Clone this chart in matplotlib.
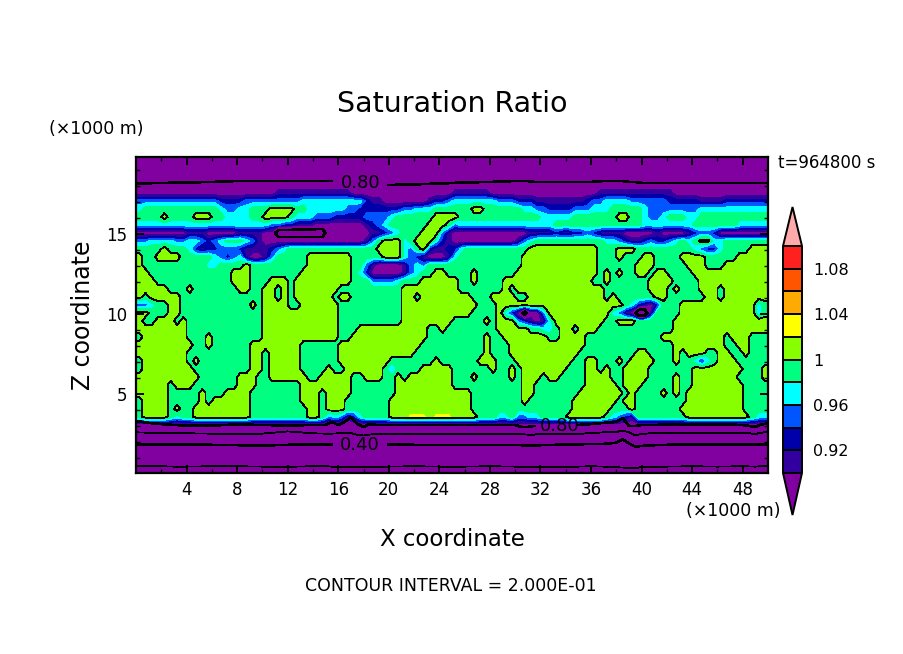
import numpy as np
import matplotlib
matplotlib.use("Agg")
import matplotlib.pyplot as plt
from matplotlib.colors import ListedColormap, BoundaryNorm

W, H = 904, 654

# Saturation-ratio classes: one character per 0.5 km x 0.5 km cell
class_values = {"a": 0.72, "b": 0.76, "0": 0.885, "1": 0.91, "2": 0.93, "3": 0.95,
                "4": 0.97, "5": 0.99, "6": 1.01, "y": 1.024}

field_rows = [
 "0000000000 0000000000 0000000000 0000000000 0000000000 0000000000 0000000000 0000000000 0000000000 0000000000",
 "0000000000 0000000000 0000000000 0000000000 0000000000 0000000000 0000000000 0000000000 0000000000 0000000000",
 "0000000000 0000000000 0000000000 0000000000 0000000000 0000000000 0000000000 0000000000 0000000000 0000000000",
 "0000000000 0000000000 0000000000 0000000000 0000000000 0000000000 0000000000 0000000000 0000000000 0000000000",
 "0000000000 0000000000 0011111111 1111000000 0000000000 1111110000 0000000000 0001111111 1111100000 0000000000",
 "3333333333 3332222333 3333334444 4444442110 0000001223 4444444333 2221111111 1233444433 3333222221 1112222222",
 "4555555555 5554334455 5666655444 4443322222 2233444555 5556655555 5443322223 3344455555 4333333334 4444444444",
 "5555655556 6655444455 6666544433 3222223333 4555555666 6555555555 5555444445 5555556655 4334555445 5555555555",
 "4444444444 4444444444 4332211100 0000001234 5555556665 3444444444 4444445555 5555555555 4444444455 5555544444",
 "0000000011 1000001111 00aaaaaaaa 0000000112 3455566631 0000000000 0011112112 2321111000 0010000123 3200000000",
 "3344443344 3234555431 0000000000 0000001356 6645666421 0000000000 1345555555 5555443211 2322345456 6445555555",
 "5555655542 1223332111 1234555555 5555555566 6643562112 2455555555 5566666666 6665556665 5555555543 2245555666",
 "6556666555 5543234100 1355555666 6666555556 6643210001 4555555555 5666666666 6665556555 6655556666 5555566666",
 "6555555555 5445555655 5555555666 6666553100 0013435555 5555555555 5666666666 6665555556 6655555666 5556666666",
 "6655555555 5555566655 5555556666 6666542000 0013455665 5556555555 6666666666 6665656556 6566555566 6666666666",
 "6665555555 5555566655 5666566666 6666555333 3455566666 6556555566 6666666666 6655655555 5666655556 6666666666",
 "6666655565 5555556655 6656566666 6655555555 5566666666 6555555565 6666666666 6666555555 5666565556 6656666666",
 "6566666555 5555555555 6656566666 6566555555 5566566666 6665556666 5566666666 6666565555 5566555555 6656666666",
 "3345566555 5555555565 6666556666 6655555555 5566666666 6666555666 6666666666 6666666542 1025556666 6666666645",
 "6655566555 5555555555 6666666666 6655555555 5566666666 6665555642 0b00366666 666664310a a155556666 6666666645",
 "6556665655 5555555555 6666666666 6655555555 5566666666 5555565666 3210146666 6666556665 5555566666 6666666666",
 "6666666655 5555555555 6666666666 6655566666 6666665565 5555555666 6655445665 6665555555 5555566666 6666666666",
 "5666666655 5655555555 6666666666 6655666666 6666665555 5555565566 6666655666 6555555555 5556666666 6665666555",
 "6666666665 5655555566 6666665555 5566666666 6666655555 5555565556 6666666666 6555555555 5555566666 6665566555",
 "6666666655 5555555566 5666665555 5566666666 6666555555 5555565556 6666666666 5555555556 6555565666 5566556555",
 "5666666656 5555555566 5666665555 5566666666 5555555655 5555666555 6666666665 5665556566 6655565542 4566655555",
 "5666666665 5555555566 5666665555 6556666665 3555566666 5555556556 5666666655 5665655666 6555555566 6666665556",
 "6666666666 5555556665 5666666556 6666556665 5656666666 5556555556 5666566555 5666655666 6555565566 6666655556",
 "6666656665 5555556665 5555556666 6666555555 5666666666 5555555555 5665555555 5666665666 5555565566 6666665555",
 "6666655555 6555666655 5555556665 6666555555 5666666666 6665555555 5665555555 6666666565 5556565666 6666665555",
 "5666655555 6566666655 5555556665 6665555555 6666666666 6665555555 5655555556 6666665665 5555555666 6666665555",
 "5666656556 6666666655 5555555665 6665555555 6666666666 6665555555 5555555556 6666655565 5555556666 6666665555",
 "5666654556 6666666655 5555555665 3431245555 666yyy6yyy 6666555445 3344555566 6666543215 5555555666 6666666544",
 "0000000000 0000000000 0000000000 0000000000 0000000000 0000000000 0000000000 0000000000 0000000000 0000000000",
]

# Contour lines of the dry layers (km)
line_x = [0, 1, 2, 3, 4, 6, 8, 10, 12, 14, 15, 15.5, 16, 16.5, 17, 17.5, 18, 18.5, 19, 20, 22, 24, 26,
          28, 30, 30.5, 31, 31.5, 32, 35, 36, 37, 38, 38.5, 39, 39.5, 40, 41, 42, 44, 46, 48, 49, 49.5, 50]
n = np.nan
line_080_low = [3.31, 3.19, 3.12, 3.06, 3.03, 3.03, 3.09, 3.06, 3.03, 3.06, 3.06, 3.25, 3.06, 3.25, 3.55, 3.12,
                2.94, 3.12, 3.06, 3.06, 3.06, 3.06, 3.06, 3.06, 3.06, 2.94, 2.94, 3.0, n, 3.06, 3.12, 3.19,
                3.25, 3.5, 3.0, 3.0, 3.06, 3.06, 3.09, 3.1, 3.1, 3.06, 2.94, 3.1, 3.15]
line_060 = [2.6, 2.58, 2.56, 2.55, 2.54, 2.52, 2.5, 2.52, 2.66, 2.54, 2.52, 2.52, 2.54, 2.56, 2.56, 2.44,
            2.4, 2.46, 2.5, 2.5, 2.5, 2.5, 2.5, 2.5, 2.48, 2.48, 2.46, 2.46, 2.5, 2.5, 2.56, 2.6,
            2.62, 2.72, 2.6, 2.42, 2.5, 2.56, 2.58, 2.58, 2.56, 2.58, 2.5, 2.58, 2.65]
line_040 = [1.85, 1.85, 1.85, 1.85, 1.85, 1.82, 1.8, 1.78, 1.82, 1.85, 1.85, 1.85, n, n, n, n,
            n, n, n, 1.85, 1.82, 1.8, 1.8, 1.82, 1.8, 1.8, 1.78, 1.78, 1.8, 1.85, 1.88, 1.88,
            1.95, 2.17, 1.9, 1.71, 1.75, 1.8, 1.82, 1.85, 1.85, 1.85, 1.85, 1.85, 1.85]
line_020 = [0.52, 0.5, 0.48, 0.46, 0.46, 0.48, 0.48, 0.46, 0.45, 0.48, 0.48, 0.46, 0.46, 0.44, 0.46, 0.44,
            0.42, 0.44, 0.46, 0.46, 0.48, 0.46, 0.46, 0.48, 0.46, 0.46, 0.44, 0.44, 0.46, 0.46, 0.48, 0.46,
            0.42, 0.4, 0.38, 0.38, 0.42, 0.46, 0.46, 0.48, 0.46, 0.48, 0.46, 0.48, 0.5]
line_080_top = [18.17, 18.17, 18.19, 18.2, 18.22, 18.25, 18.31, 18.31, 18.31, 18.31, 18.31, 18.31, n, n, n, n,
                n, n, n, 18.06, 18.1, 18.15, 18.22, 18.25, 18.31, 18.31, 18.31, 18.25, 18.25, 18.25, 18.25, 18.31,
                18.31, 18.31, 18.25, 18.25, 18.19, 18.19, 18.19, 18.19, 18.19, 18.19, 18.19, 18.19, 18.19]

levels = [0.90, 0.92, 0.94, 0.96, 0.98, 1.00, 1.02, 1.04, 1.06, 1.08, 1.10]
band_colors = ["#3300A0", "#0000AA", "#0055FF", "#00FFFF", "#00FF80",
               "#88FF00", "#FFFF00", "#FFAA00", "#FF5500", "#FF2020"]
under_color, over_color = "#8000A0", "#FFAAAA"
cbar_ticks = [0.92, 0.96, 1.00, 1.04, 1.08]
cbar_labels = ["0.92", "0.96", "1", "1.04", "1.08"]
xticks = [4, 8, 12, 16, 20, 24, 28, 32, 36, 40, 44, 48]
yticks = [5, 10, 15]


def px_axes(fig, left, top, right, bottom):
    return fig.add_axes([left / W, 1 - bottom / H, (right - left) / W, (bottom - top) / H])


rows = [r.replace(" ", "") for r in field_rows]
grid = np.array([[class_values[c] for c in r] for r in rows])
ncol = grid.shape[1]
x_cells = (np.arange(ncol) + 0.5) * 50.0 / ncol
z_cells = 19.5625 - 0.5 * np.arange(len(rows))

# Extend the table to the domain edges, and to the ground with the driest class
x_full = np.concatenate([[0.0], x_cells, [50.0]])
z_full = np.concatenate([[20.0], z_cells, [0.0]])
grid_full = np.pad(grid, 1, mode="edge")

fig = plt.figure(figsize=(W / 100, H / 100), dpi=100, facecolor="white")
ax = px_axes(fig, 136, 157, 768, 473)

cmap = ListedColormap(band_colors)
cmap.set_under(under_color)
cmap.set_over(over_color)
norm = BoundaryNorm(levels, cmap.N)
cf = ax.contourf(x_full, z_full, grid_full, levels=levels, cmap=cmap, norm=norm, extend="both")
ax.contour(x_full, z_full, grid_full, levels=[1.0], colors="k", linewidths=0.6, antialiased=False)
ax.contour(x_full, z_full, grid_full, levels=[0.8], colors="k", linewidths=1.2, antialiased=False)

ax.plot(line_x, line_080_low, color="k", lw=1.2, aa=False)
ax.plot(line_x, line_060, color="k", lw=0.6, aa=False)
ax.plot(line_x, line_040, color="k", lw=1.2, aa=False)
ax.plot(line_x, line_020, color="k", lw=0.6, aa=False)
ax.plot(line_x, line_080_top, color="k", lw=1.2, aa=False)
ax.text(17.75, 18.2, "0.80", ha="center", va="center", fontsize=13)
ax.text(17.7, 1.8, "0.40", ha="center", va="center", fontsize=13)
ax.text(33.5, 3.0, "0.80", ha="center", va="center", fontsize=13)

ax.set_xlim(0, 50)
ax.set_ylim(0.06, 19.81)
ax.set_xticks(xticks)
ax.set_xticks(np.arange(2, 50, 4), minor=True)
ax.set_yticks(yticks)
ax.set_yticks([z for z in range(1, 20) if z % 5], minor=True)
ax.tick_params(which="major", direction="in", length=6, width=1.4, top=True, right=True,
               labelsize=12, pad=6)
ax.tick_params(which="minor", direction="in", length=3, width=1.0, top=True, right=True)
for s in ax.spines.values():
    s.set_linewidth(1.6)

cax = px_axes(fig, 783, 207, 802, 515)
cb = fig.colorbar(cf, cax=cax, extendfrac=[0.185, 0.172], drawedges=True, spacing="uniform")
cb.set_ticks(cbar_ticks, labels=cbar_labels)
cb.ax.minorticks_off()
cb.ax.tick_params(length=0, labelsize=11.5, pad=8)
cb.outline.set_linewidth(1.4)
cb.dividers.set_linewidth(1.4)
cb.dividers.set_color("k")


def tx(px, py, s, **kw):
    fig.text(px / W, 1 - py / H, s, **kw)


tx(452, 104, "Saturation Ratio", ha="center", va="center", fontsize=20.5)
tx(96, 129, "(\u00d71000 m)", ha="center", va="center", fontsize=12.5)
tx(827, 163, "t=964800 s", ha="center", va="center", fontsize=12)
tx(83, 315, "Z coordinate", ha="center", va="center", rotation=90, fontsize=17)
tx(452, 539, "X coordinate", ha="center", va="center", fontsize=16.5)
tx(733, 511, "(\u00d71000 m)", ha="center", va="center", fontsize=12.5)
tx(451, 586, "CONTOUR INTERVAL = 2.000E-01", ha="center", va="center", fontsize=12.5)

fig.savefig("out.png", dpi=100, facecolor="white")
